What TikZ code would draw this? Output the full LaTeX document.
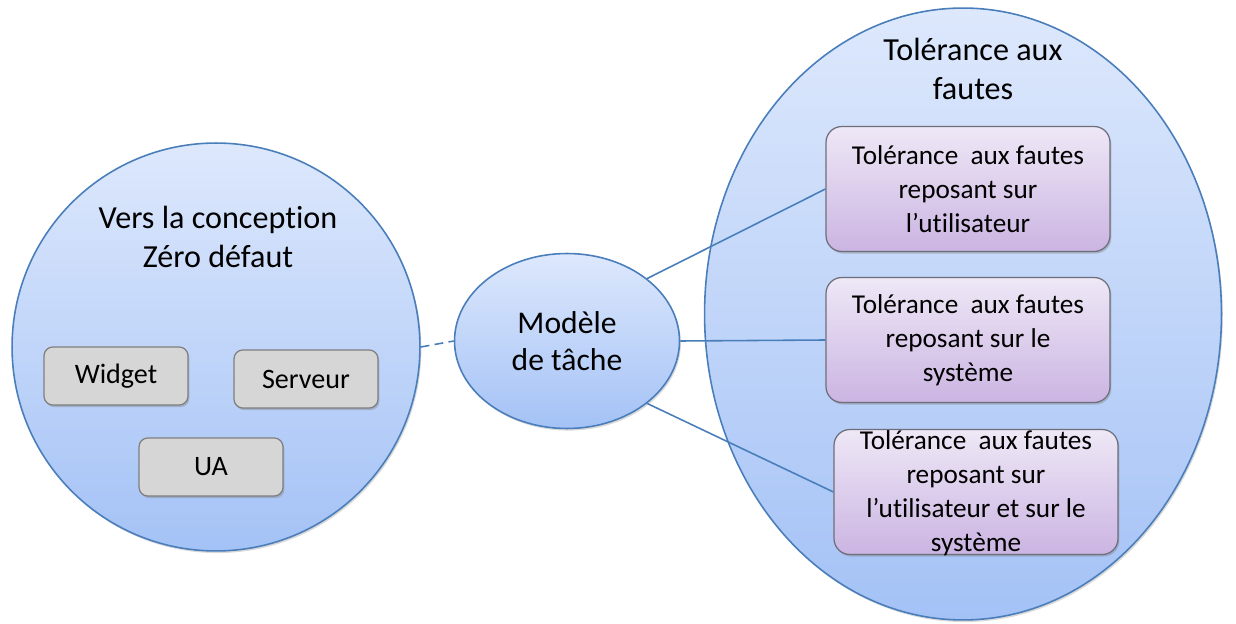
\documentclass[tikz,border=0pt]{standalone}
\usepackage{fontspec}
\setmainfont{Carlito}[Ligatures=NoCommon]
\usepackage{tikz}
\usetikzlibrary{positioning,shapes.geometric,shadows}

\definecolor{zoneTop}{HTML}{DDE8FC}
\definecolor{zoneBot}{HTML}{A4C2F6}
\definecolor{zoneLine}{HTML}{4A7EBB}
\definecolor{greyFill}{HTML}{D6D6D6}
\definecolor{greyLine}{HTML}{7F7F7F}
\definecolor{tolTop}{HTML}{EEE8F6}
\definecolor{tolBot}{HTML}{CBB4E2}
\definecolor{tolLine}{HTML}{6E6E7A}

\tikzset{
  zone/.style={draw=zoneLine, line width=0.9pt, top color=zoneTop, bottom color=zoneBot,
    drop shadow={shadow xshift=0.8pt, shadow yshift=-1.2pt, opacity=0.3}},
  greybox/.style={draw=greyLine, line width=0.7pt, fill=greyFill, rounded corners=5pt,
    minimum width=2.88cm, minimum height=1.16cm, font=\fontsize{16}{19}\selectfont,
    drop shadow={shadow xshift=0.8pt, shadow yshift=-1.2pt, opacity=0.4}},
  tolbox/.style={draw=tolLine, line width=0.7pt, top color=tolTop, bottom color=tolBot,
    rounded corners=9pt, minimum width=5.68cm, minimum height=2.5cm, inner ysep=0pt,
    align=center, font=\fontsize{15.5}{19.3}\selectfont,
    drop shadow={shadow xshift=0.8pt, shadow yshift=-1.2pt, opacity=0.4}},
  title/.style={align=center, font=\fontsize{18.3}{22}\selectfont},
  link/.style={draw=zoneLine, line width=0.9pt}
}

\begin{document}
\begin{tikzpicture}[x=0.02cm, y=-0.02cm]
  \useasboundingbox (0,0) rectangle (1236,624);

  % Zero defaut circle
  \node[zone, circle, minimum size=8.16cm] (zero) at (216,347) {};
  \node[title] (zeroTitle) at (218,237) {Vers la conception\\Zéro défaut};
  \node[greybox] (widget) at (116,376) {Widget};
  \node[greybox] (serveur) at (306,379) {Serveur};
  \node[greybox] (ua) at (211,467) {UA};

  % Task model
  \node[zone, ellipse, minimum width=4.5cm, minimum height=3.5cm, title,
        font=\fontsize{18}{21}\selectfont] (model) at (567,341) {Modèle\\de tâche};

  % Fault tolerance zone
  \node[zone, ellipse, minimum width=10.34cm, minimum height=12.24cm] (tol) at (963,314) {};
  \node[title] (tolTitle) at (973,69) {Tolérance aux\\fautes};
  \node[tolbox] (tol1) at (968,189) {Tolérance\ \ aux fautes\\reposant sur\\l’utilisateur};
  \node[tolbox] (tol2) at (968,340) {Tolérance\ \ aux fautes\\reposant sur le\\système};
  \node[tolbox] (tol3) at (976,492) {};
  \node[align=center, font=\fontsize{15.5}{19.3}\selectfont] (tol3text) at (976,493)
    {Tolérance\ \ aux fautes\\reposant sur\\l’utilisateur et sur le\\système};

  % Links
  \draw[link, dash pattern=on 5pt off 3pt] (zero.east) -- (model.west);
  \draw[link] (model.north east) -- (tol1.west);
  \draw[link] (model.east) -- (tol2.west);
  \draw[link] (model.south east) -- (tol3.west);
\end{tikzpicture}
\end{document}
